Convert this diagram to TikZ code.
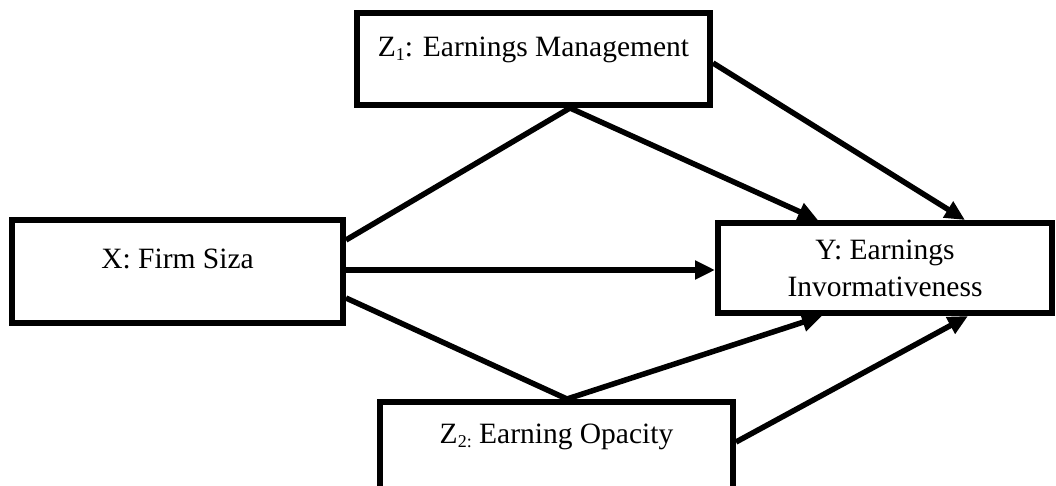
\documentclass[tikz,border=0pt]{standalone}
\usepackage{fontspec}
\setmainfont{Liberation Serif}
\usetikzlibrary{arrows.meta,calc}
\begin{document}
\begin{tikzpicture}[x=1pt,y=-1pt,
  box/.style={draw=black,line width=6pt,rectangle,inner sep=0pt,align=center,
    font=\fontsize{29.5}{37}\selectfont},
  conn/.style={line width=5.5pt},
  arr/.style={line width=5.5pt,-{Triangle[length=20pt,width=18pt]}}]
\useasboundingbox (0,0) rectangle (1056,486);
\fill[white] (0,0) rectangle (1056,486);
\node[box,minimum width=331pt,minimum height=103pt,text depth=25pt] (X) at (177.5,271.5) {X: Firm Siza};
\node[box,minimum width=353pt,minimum height=92pt,text depth=24pt] (Z1) at (533.5,59) {Z{\fontsize{18}{18}\selectfont\raisebox{-4pt}{1}}: Earnings Management};
\node[box,minimum width=334pt,minimum height=90pt] (Y) at (885,268) {Y: Earnings\\Invormativeness};
\node[box,minimum width=353pt,minimum height=92pt,text depth=28pt] (Z2) at (556.5,448) {Z{\fontsize{18}{18}\selectfont\raisebox{-4pt}{2:}} Earning Opacity};
\draw[conn] ([yshift=-23pt]X.north east) -- ([xshift=36.5pt]Z1.south);
\draw[arr] ([xshift=36.5pt]Z1.south) -- ([xshift=-67pt]Y.north);
\draw[arr] ([yshift=-4pt]Z1.east) -- ([xshift=80pt]Y.north);
\draw[arr] ([yshift=1.5pt]X.east) -- ([yshift=-2pt]Y.west);
\draw[conn] ([yshift=-26.5pt]X.east) -- ([xshift=10.5pt]Z2.north);
\draw[arr] ([xshift=10.5pt]Z2.north) -- ([xshift=-63pt]Y.south);
\draw[arr] ([yshift=6pt]Z2.east) -- ([xshift=83pt]Y.south);
\end{tikzpicture}
\end{document}
